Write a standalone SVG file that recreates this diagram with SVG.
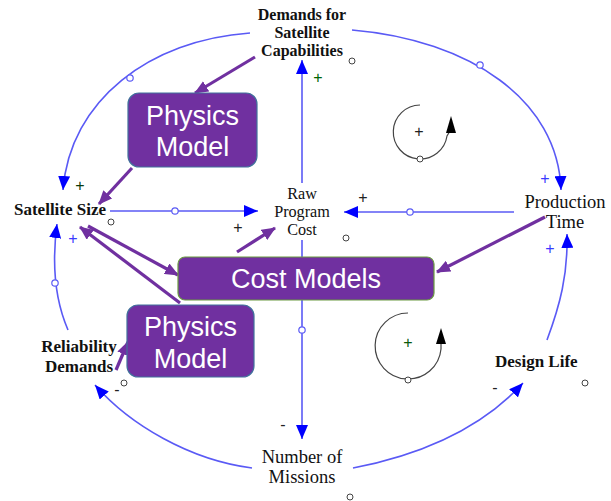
<svg xmlns="http://www.w3.org/2000/svg" width="611" height="501" viewBox="0 0 611 501">
<defs>
<marker id="ab" markerUnits="userSpaceOnUse" markerWidth="14" markerHeight="12" refX="14" refY="6" orient="auto"><path d="M0,0 L14,6 L0,12 z" fill="#0000ff"/></marker>
<marker id="ap" markerUnits="userSpaceOnUse" markerWidth="14" markerHeight="12" refX="13" refY="6" orient="auto"><path d="M0,0 L14,6 L0,12 z" fill="#7030a0"/></marker>
<style>
.bl{fill:none;stroke:#5a5af5;stroke-width:1.6}
.pl{fill:none;stroke:#7030a0;stroke-width:3.2}
.v{fill:#fff;stroke:#5a5af5;stroke-width:1.2}
.g{fill:#fff;stroke:#444;stroke-width:1}
.nb{font-family:"Liberation Serif",serif;font-weight:bold;font-size:17px;fill:#111}
.nr{font-family:"Liberation Serif",serif;font-size:18.5px;fill:#111}
.bt{font-family:"Liberation Sans",Arial,sans-serif;font-size:27px;fill:#fff}
.box{fill:#7030a0;stroke:#41719c;stroke-width:1.2}
.sg{font-family:"Liberation Sans",Arial,sans-serif;font-size:16px}
.lp{fill:none;stroke:#444;stroke-width:1.2}
</style>
</defs>
<g id="connectors">
<path class="bl" d="M250,33 C150,40 70,100 63,190" marker-end="url(#ab)"/>
<path class="bl" d="M352,30 C470,40 558,100 561,190" marker-end="url(#ab)"/>
<path class="bl" d="M547,340 C560,305 568,275 567,234" marker-end="url(#ab)"/>
<path class="bl" d="M353,468 C420,455 480,430 523,383" marker-end="url(#ab)"/>
<path class="bl" d="M252,468 C190,460 130,425 95,385" marker-end="url(#ab)"/>
<path class="bl" d="M68,330 C55,300 52,262 57,224" marker-end="url(#ab)"/>
<path class="bl" d="M302,183 L302,60" marker-end="url(#ab)"/>
<path class="bl" d="M302,240 L302,439" marker-end="url(#ab)"/>
<path class="bl" d="M110,211 L258,211" marker-end="url(#ab)"/>
<path class="bl" d="M514,212 L344,212" marker-end="url(#ab)"/>
<circle class="v" cx="130" cy="78" r="3.2"/>
<circle class="v" cx="480" cy="65" r="3.2"/>
<circle class="v" cx="175" cy="211" r="3.2"/>
<circle class="v" cx="410" cy="212" r="3.2"/>
<circle class="v" cx="302" cy="330" r="3.2"/>
<circle class="v" cx="55" cy="283" r="3.2"/>
<path class="pl" d="M255,57 L195,93" marker-end="url(#ap)"/>
<path class="pl" d="M132,168 L99,204" marker-end="url(#ap)"/>
<path class="pl" d="M88,226 L178,275" marker-end="url(#ap)"/>
<path class="pl" d="M180,303 L80,227" marker-end="url(#ap)"/>
<path class="pl" d="M237,252 L275,228" marker-end="url(#ap)"/>
<path class="pl" d="M545,217 L437,272" marker-end="url(#ap)"/>
<path class="pl" d="M116,370 L128,342" marker-end="url(#ap)"/>
</g>
<g id="polarities" class="sg">
<text x="318" y="83" text-anchor="middle" fill="#006400">+</text>
<text x="80" y="191" text-anchor="middle" fill="#0a3a0a">+</text>
<text x="73" y="244" text-anchor="middle" fill="#3a3aff">+</text>
<text x="238" y="233" text-anchor="middle" fill="#222">+</text>
<text x="363" y="203" text-anchor="middle" fill="#222">+</text>
<text x="545" y="184" text-anchor="middle" fill="#3a3aff">+</text>
<text x="550" y="254" text-anchor="middle" fill="#3a3aff">+</text>
<text x="283" y="430" text-anchor="middle" fill="#222">-</text>
<text x="495" y="393" text-anchor="middle" fill="#222">-</text>
<text x="117" y="395" text-anchor="middle" fill="#222">-</text>
</g>
<g id="aux">
<circle class="g" cx="352" cy="61" r="3"/>
<circle class="g" cx="111" cy="222" r="3"/>
<circle class="g" cx="346" cy="238" r="3"/>
<circle class="g" cx="585" cy="383" r="3"/>
<circle class="g" cx="124" cy="383" r="3"/>
<circle class="g" cx="350" cy="497" r="3"/>
</g>
<g id="loop1">
<path class="lp" d="M420,105 A27,27 0 1 0 447,136 L450,131"/>
<path d="M451,116 L446,133 L456,133 z" fill="#000"/>
<circle class="g" cx="420" cy="159" r="3"/>
<text x="419" y="137" text-anchor="middle" class="sg" fill="#222">+</text>
</g>
<g id="loop2">
<path class="lp" d="M408,313 A33,33 0 1 0 441,349 L441,343"/>
<path d="M441,328 L436,344 L446,344 z" fill="#000"/>
<circle class="g" cx="408" cy="380" r="3"/>
<text x="408" y="348" text-anchor="middle" class="sg" fill="#0a5a0a">+</text>
</g>
<g id="demands">
<text class="nb" text-anchor="middle" style="font-size:16px"><tspan x="302" y="20">Demands for</tspan><tspan x="302" y="38">Satellite</tspan><tspan x="302" y="56">Capabilities</tspan></text>
</g>
<g id="satellite-size">
<text class="nb" x="14" y="215">Satellite Size</text>
</g>
<g id="raw-program-cost">
<text class="nr" text-anchor="middle" style="font-size:16.2px"><tspan x="302" y="199">Raw</tspan><tspan x="302" y="217">Program</tspan><tspan x="302" y="235">Cost</tspan></text>
</g>
<g id="production-time">
<text class="nr" text-anchor="middle"><tspan x="565" y="208">Production</tspan><tspan x="565" y="228">Time</tspan></text>
</g>
<g id="reliability-demands">
<text class="nb" text-anchor="middle"><tspan x="79" y="352">Reliability</tspan><tspan x="79" y="372">Demands</tspan></text>
</g>
<g id="design-life">
<text class="nb" x="495" y="367">Design Life</text>
</g>
<g id="number-of-missions">
<text class="nr" text-anchor="middle"><tspan x="302" y="463">Number of</tspan><tspan x="302" y="483">Missions</tspan></text>
</g>
<g id="physics-model-1">
<rect class="box" x="128" y="93" width="129" height="74" rx="11"/>
<text class="bt" text-anchor="middle"><tspan x="192.5" y="125">Physics</tspan><tspan x="192.5" y="156">Model</tspan></text>
</g>
<g id="cost-models">
<rect x="178" y="257" width="256" height="43" rx="7" fill="#7030a0" stroke="#6a9a40" stroke-width="1.2"/>
<text class="bt" text-anchor="middle" x="306" y="288">Cost Models</text>
</g>
<g id="physics-model-2">
<rect class="box" x="127" y="305" width="127" height="72" rx="11"/>
<text class="bt" text-anchor="middle"><tspan x="190.5" y="336">Physics</tspan><tspan x="190.5" y="368">Model</tspan></text>
</g>
</svg>
